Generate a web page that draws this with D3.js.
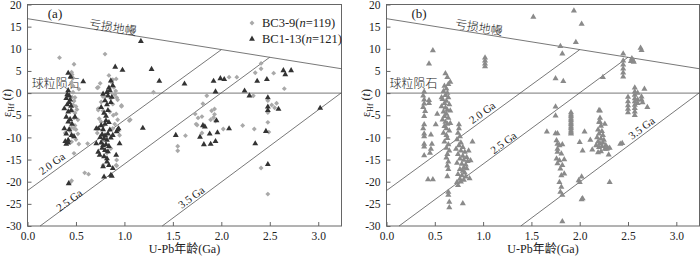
<!DOCTYPE html>
<html>
<head>
<meta charset="utf-8">
<script src="https://cdn.jsdelivr.net/npm/d3@7"></script>
<style>
  body { margin: 0; background: #fff; }
  text { font-family: "Liberation Serif", "Times New Roman", "Noto Sans CJK SC", serif; fill: #222; }
  .cjk { font-family: "Noto Sans CJK SC", sans-serif; font-weight: 300; }
</style>
</head>
<body>
<svg id="chart" width="700" height="259"></svg>
<script>
// axis ticks
const xTicks = [0, 0.5, 1.0, 1.5, 2.0, 2.5, 3.0];
const yTicks = [-30, -25, -20, -15, -10, -5, 0, 5, 10, 15, 20];

// reference lines [age Ga, eHf]
const mantleLine = [[0, 16.8], [3.24, 5.5]];
const chondriteLine = [[0, 0], [3.24, 0]];
const line20 = [[0, -22], [2.0, 9.8]];
const line25 = [[0.13, -30], [2.5, 8.1]];
const line35 = [[1.39, -30], [3.24, 0.1]];

// panel (a): BC3-9 grey diamonds
const bc39 = [
  [0.33,8.0],[0.48,6.5],[0.455,4.7],[0.46,4.2],[0.47,3.4],[0.455,2.4],[0.47,1.6],[0.53,0.9],
  [0.46,-0.9],[0.48,-1.8],[0.47,-2.7],[0.51,-3.7],[0.49,-4.5],[0.48,-5.6],[0.45,-6.8],[0.455,-7.8],
  [0.48,-8.0],[0.50,-8.2],[0.39,-9.0],[0.52,-9.2],[0.455,-11.0],[0.48,-13.6],[0.62,-11.4],[0.59,-18.0],
  [0.63,-18.3],[0.455,-19.8],[0.44,-20.2],
  [0.47,0.2],[0.49,-1.0],[0.50,-3.0],[0.46,-4.0],[0.52,-6.0],[0.47,-9.8],[0.49,-7.3],[0.44,-8.5],
  [0.50,-10.5],[0.53,-11.5],
  [0.80,8.8],[0.72,1.2],[0.88,3.0],[0.915,3.2],[0.87,2.4],[0.89,1.3],[0.73,1.3],[0.92,-1.0],
  [0.93,-1.5],[0.88,-2.5],[0.97,-2.8],[0.97,-3.0],[0.73,-3.5],[0.73,-3.8],[0.885,-5.0],[0.915,-4.7],
  [0.74,-5.8],[1.05,-6.2],[1.06,-6.0],[0.76,-6.5],[0.78,-7.4],[0.90,-7.0],[0.92,-15.1],[0.915,-16.3],
  [0.78,-16.3],[0.92,-16.4],[0.81,-9.8],[0.86,-12.5],
  [0.76,-2.0],[0.90,-0.3],[0.85,-4.2],[0.78,-4.0],[0.93,-6.0],[0.88,-8.0],[0.82,-13.5],[0.95,-9.5],
  [0.72,-9.0],[0.78,-0.8],[0.86,-1.2],[0.91,0.5],[0.75,2.2],[0.84,4.0],[0.77,-10.8],
  [1.30,0.2],[1.85,-0.6],[1.81,-2.4],[1.73,-4.7],[1.76,-5.6],[1.80,-5.3],[1.74,-7.0],[1.90,-4.0],
  [1.93,-3.6],[1.92,-5.5],[1.89,-6.0],[1.94,-6.3],[1.93,-4.8],[2.02,-8.1],[2.22,-7.3],[2.34,-8.1],
  [2.49,-8.8],[2.33,-0.6],[2.41,6.7],[2.41,5.5],[2.35,4.6],[2.54,4.5],[2.65,1.0],[2.48,-1.7],
  [2.52,-2.7],[2.57,-2.3],[2.55,-3.3],[2.48,-4.4],[2.48,-6.6],[2.08,3.6],[2.16,3.6],[1.63,-9.6],
  [1.55,-12.0],[1.55,-13.0],[1.80,-9.0],[2.41,-16.9],[2.48,-22.8],[1.75,-7.2]
];

// panel (a): BC1-13 dark triangles
const bc113 = [
  [0.42,4.5],[0.445,3.7],[0.575,2.6],[0.42,0.6],[0.41,-0.3],[0.43,-0.6],[0.40,-1.2],[0.44,-1.5],
  [0.43,-2.1],[0.41,-2.6],[0.45,-2.9],[0.38,-3.5],[0.45,-3.9],[0.42,-4.2],[0.40,-5.4],[0.49,-5.4],
  [0.44,-5.9],[0.42,-6.5],[0.46,-7.0],[0.38,-8.0],[0.43,-8.2],[0.40,-9.2],[0.455,-9.5],[0.48,-9.8],
  [0.42,-10.6],[0.39,-10.9],[0.40,-11.5],[0.42,-11.2],[0.425,-20.4],
  [0.905,5.9],[0.98,5.2],[0.86,2.8],[0.88,1.7],[0.84,1.2],[0.85,0.6],[0.82,0.2],[0.78,-0.2],
  [0.83,-0.6],[0.87,-0.9],[0.80,-1.7],[0.86,-2.1],[0.82,-2.6],[0.76,-3.2],[0.83,-3.9],[0.79,-4.5],
  [0.81,-6.2],[0.84,-6.6],[0.80,-7.0],[0.71,-8.0],[0.73,-8.0],[0.78,-8.2],[0.85,-8.3],[0.93,-8.3],
  [0.94,-8.0],[0.92,-8.7],[0.77,-9.3],[0.80,-9.6],[0.83,-9.2],[0.75,-10.0],[0.79,-10.3],[0.82,-10.6],
  [0.86,-10.1],[0.71,-11.4],[0.76,-11.2],[0.78,-11.8],[0.81,-11.6],[0.84,-12.0],[0.95,-11.4],[0.77,-12.4],
  [0.80,-12.9],[0.73,-13.3],[0.83,-13.2],[0.745,-14.0],[0.79,-14.3],[0.82,-14.8],[0.915,-14.0],[0.78,-16.6],
  [0.84,-16.3],[0.88,-17.0],[0.86,-18.5],[0.79,-18.9],[0.87,-18.7],
  [0.81,-5.2],[0.76,-7.3],[0.88,-9.5],[0.82,-15.5],
  [1.17,11.7],[1.28,5.4],[1.36,2.7],[1.62,2.1],[1.92,2.7],[1.99,3.3],[2.03,3.1],[1.94,0.3],
  [2.24,0.5],[2.29,-0.6],[2.37,2.7],[2.47,3.1],[2.64,5.1],[2.66,4.2],[2.72,5.1],[2.48,-1.0],
  [2.48,-3.1],[2.59,-3.6],[2.48,-3.9],[3.02,-3.4],[1.19,-7.9],[1.81,-7.3],[1.83,-7.6],[1.95,-6.2],
  [2.08,-8.0],[1.53,-9.5],[1.78,-9.9],[1.88,-9.2],[1.96,-8.9],[1.82,-11.6],[1.89,-11.5],[1.94,-10.9],
  [2.35,-11.4],[2.46,-8.6],[2.48,-16.1]
];

// panel (b): grey triangles
const panelB = [
  [0.39,0.3],[0.38,-0.6],[0.39,-1.5],[0.39,-2.4],[0.38,-3.2],[0.40,-4.1],[0.39,-5.2],[0.39,-7.1],
  [0.38,-8.0],[0.39,-9.2],[0.39,-9.8],[0.39,-11.5],[0.39,-12.1],[0.39,-14.1],
  [0.44,-1.6],[0.44,-2.3],[0.46,-9.4],[0.47,-11.5],[0.46,-12.6],[0.45,-13.5],[0.51,-7.1],[0.525,-4.7],
  [0.43,-19.5],[0.48,-19.5],[0.48,9.6],[0.44,6.6],
  [0.61,4.4],[0.63,3.6],[0.66,2.5],[0.64,2.0],[0.60,1.6],[0.62,1.0],[0.59,0.4],[0.63,0.0],
  [0.61,-0.5],[0.64,-1.0],[0.58,-1.4],[0.62,-1.8],[0.60,-2.3],[0.65,-2.6],[0.57,-3.0],[0.61,-3.3],
  [0.63,-3.8],[0.59,-4.2],[0.62,-4.7],[0.60,-5.2],[0.64,-5.6],[0.58,-6.0],[0.61,-6.5],[0.63,-7.0],
  [0.60,-7.5],[0.62,-8.0],[0.65,-8.5],[0.59,-9.0],[0.62,-9.5],[0.63,-10.2],[0.60,-11.0],[0.64,-11.6],
  [0.62,-12.4],[0.65,-13.0],[0.63,-13.8],[0.62,-14.6],[0.64,-15.5],[0.63,-16.4],[0.64,-17.2],[0.63,-18.8],
  [0.64,-22.3],[0.64,-23.0],[0.65,-24.6],[0.65,-25.8],[0.66,-4.0],[0.57,-1.0],[0.66,-6.8],
  [0.75,-7.1],[0.75,-8.0],[0.74,-9.0],[0.76,-9.8],[0.73,-10.5],[0.77,-11.2],[0.75,-11.8],[0.79,-12.2],
  [0.72,-12.6],[0.77,-13.0],[0.81,-13.3],[0.74,-13.8],[0.79,-14.2],[0.83,-14.5],[0.76,-14.8],[0.80,-15.1],
  [0.84,-15.4],[0.73,-15.8],[0.78,-16.0],[0.82,-16.2],[0.80,-16.8],[0.76,-17.2],[0.83,-17.0],[0.79,-17.6],
  [0.81,-18.0],[0.74,-18.3],[0.78,-18.6],[0.82,-18.9],[0.76,-19.4],[0.80,-19.6],[0.73,-20.1],[0.74,-20.8],
  [0.89,-11.0],[0.87,-15.2],[0.86,-19.3],[0.79,-24.9],[0.85,-13.0],[0.77,-20.0],
  [1.02,8.0],[1.02,7.3],[1.02,6.6],[1.02,6.0],
  [1.52,17.2],[1.94,18.6],[2.02,15.6],[1.96,11.5],[1.80,10.6],[1.82,8.9],[1.75,3.3],[1.83,2.7],
  [2.24,3.6],[2.45,8.9],[2.45,7.3],[2.45,6.4],[2.45,5.5],[2.45,4.6],[2.45,3.7],
  [2.53,7.2],[2.54,7.8],[2.55,7.4],[2.56,7.0],[2.63,10.2],[2.64,9.7],
  [2.50,-0.9],[2.50,-1.9],[2.50,-2.8],[2.50,-3.6],[2.50,-4.4],
  [2.57,1.2],[2.57,0.3],[2.57,-0.4],[2.57,-1.2],[2.57,-1.9],[2.57,-2.7],[2.57,-3.4],[2.57,-4.2],[2.57,-5.0],
  [2.60,0.0],[2.60,-1.5],[2.60,-2.3],[2.64,-0.8],[2.64,-1.5],[2.67,0.9],[2.70,-3.2],[2.65,-2.1],
  [1.75,-3.1],[1.75,-5.1],
  [1.91,-4.4],[1.91,-4.9],[1.91,-5.3],[1.91,-5.8],[1.91,-6.2],[1.91,-6.7],[1.91,-7.1],[1.91,-7.6],
  [1.91,-8.0],[1.91,-8.5],[1.91,-8.9],[1.91,-9.2],
  [2.20,-3.9],[2.21,-4.0],[2.21,-6.6],[2.26,-7.0],[1.66,-8.7],[1.75,-9.1],[1.77,-9.1],[2.05,-8.7],
  [2.11,-10.6],[2.00,-11.1],[2.03,-13.0],[2.13,-12.8],
  [2.21,-5.6],[2.20,-6.5],[2.22,-7.4],[2.19,-8.3],[2.23,-8.6],[2.20,-9.2],[2.24,-9.5],[2.18,-10.0],
  [2.22,-10.3],[2.25,-10.6],[2.19,-11.0],[2.21,-11.4],[2.24,-11.2],[2.17,-11.8],[2.27,-11.8],[2.20,-12.2],
  [2.23,-12.0],[2.26,-12.6],[2.22,-13.2],[2.19,-13.4],[2.29,-12.4],
  [2.28,-12.6],[2.31,-12.4],[2.30,-13.9],[2.42,-11.5],[2.44,-11.3],
  [1.76,-10.7],[1.77,-11.5],[1.79,-11.8],[1.82,-11.6],[1.77,-12.6],[1.77,-13.3],[1.81,-13.7],[1.76,-14.8],
  [1.79,-15.2],[1.84,-15.0],[1.77,-15.9],[1.82,-16.3],[1.80,-17.1],[1.84,-18.2],[1.81,-18.6],[1.79,-20.1],
  [1.81,-21.2],[1.80,-22.3],[1.82,-23.0],[1.82,-29.0],
  [2.02,-18.9],[1.99,-19.7],[2.00,-20.1],[2.31,-20.1],[2.02,-24.0],[2.03,-23.8]
];

const SERIF = "Liberation Serif, Times New Roman, serif";
const svg = d3.select("#chart");
const y = d3.scaleLinear().domain([-30, 20]).range([226, 4.5]);

function drawPanel(p) {
  const x = d3.scaleLinear().domain([0, 3.24]).range([p.x0, p.x1]);
  const g = svg.append("g");
  const line = d3.line().x(d => x(d[0])).y(d => y(d[1]));
  const angle = l => Math.atan2(y(l[1][1]) - y(l[0][1]), x(l[1][0]) - x(l[0][0])) * 180 / Math.PI;

  // axes with inner ticks
  const xa = g.append("g")
    .attr("transform", `translate(0,${y(-30)})`)
    .call(d3.axisBottom(x).tickValues(xTicks).tickFormat(d => d.toFixed(1))
      .tickSizeInner(-4).tickSizeOuter(0).tickPadding(6));
  const ya = g.append("g")
    .attr("transform", `translate(${p.x0},0)`)
    .call(d3.axisLeft(y).tickValues(yTicks).tickFormat(d => String(d))
      .tickSizeInner(-4).tickSizeOuter(0).tickPadding(6));
  [xa, ya].forEach(a => {
    a.attr("font-family", SERIF);
    a.select(".domain").remove();
    a.selectAll("line").attr("stroke", "#666");
    a.selectAll("text").attr("font-size", 11.5).attr("fill", "#222")
      .attr("font-family", SERIF);
  });

  // frame
  g.append("rect")
    .attr("x", p.x0).attr("y", y(20))
    .attr("width", p.x1 - p.x0).attr("height", y(-30) - y(20))
    .attr("fill", "none").attr("stroke", "#666").attr("stroke-width", 1);

  // reference lines
  [mantleLine, chondriteLine, line20, line25, line35].forEach(l => {
    g.append("path").datum(l).attr("d", line)
      .attr("fill", "none").attr("stroke", "#555").attr("stroke-width", 0.8);
  });

  // labels on lines
  const lab = (txt, t, e, rot, cls, anchor) => {
    g.append("text")
      .attr("class", cls || null)
      .attr("transform", `translate(${x(t)},${y(e)}) rotate(${rot})`)
      .attr("text-anchor", anchor || "middle")
      .attr("dy", "0.35em")
      .attr("font-size", cls ? 12 : 11)
      .attr("fill", "#333")
      .text(txt);
  };
  lab("亏损地幔", p.dm[0], p.dm[1], angle(mantleLine), "cjk");
  lab("球粒陨石", p.ch[0], p.ch[1], 0, "cjk", "start");
  lab("2.0 Ga", p.l20[0], p.l20[1], angle(line20));
  lab("2.5 Ga", p.l25[0], p.l25[1], angle(line25));
  lab("3.5 Ga", p.l35[0], p.l35[1], angle(line35));

  // panel letter
  g.append("text").attr("x", p.letterX).attr("y", 18)
    .attr("text-anchor", "middle").attr("font-size", 13).text(p.letter);

  // y label
  const yl = g.append("text")
    .attr("transform", `translate(${p.x0 - 17},103) rotate(-90)`)
    .attr("text-anchor", "middle").attr("font-size", 12);
  yl.append("tspan").text("ε");
  yl.append("tspan").attr("font-size", 8).attr("dy", 3).text("Hf");
  yl.append("tspan").attr("dy", -3).text(" (");
  yl.append("tspan").attr("font-style", "italic").text("t");
  yl.append("tspan").text(")");

  // x label
  g.append("text").attr("x", (p.x0 + p.x1) / 2).attr("y", 253)
    .attr("text-anchor", "middle").attr("font-size", 12).text("U-Pb年龄(Ga)");

  // points
  p.series.forEach(s => {
    g.append("g").selectAll("path")
      .data(s.data)
      .join("path")
      .attr("transform", d => `translate(${x(d[0])},${y(d[1])})${s.rot ? " rotate(45)" : ""}`)
      .attr("d", d3.symbol().type(s.type).size(s.size))
      .attr("fill", s.color);
  });

  return x;
}

drawPanel({
  x0: 27.5, x1: 341.5, letter: "(a)", letterX: 55,
  dm: [0.88, 14.8], ch: [0.045, 2.0], l20: [0.25, -15.9], l25: [0.43, -24.2], l35: [1.69, -23.5],
  series: [
    { data: bc39, type: d3.symbolSquare, size: 12, color: "#a9a9a9", rot: true },
    { data: bc113, type: d3.symbolTriangle, size: 15, color: "#333" }
  ]
});
drawPanel({
  x0: 386.5, x1: 699.5, letter: "(b)", letterX: 419,
  dm: [0.955, 14.8], ch: [0.03, 2.0], l20: [0.99, -4.4], l25: [1.21, -11.2], l35: [2.64, -7.9],
  series: [
    { data: panelB, type: d3.symbolTriangle, size: 16, color: "#8a8a8a" }
  ]
});

// legend for panel (a)
const leg = svg.append("g");
leg.append("path").attr("transform", "translate(252,23) rotate(45)")
  .attr("d", d3.symbol().type(d3.symbolSquare).size(12)).attr("fill", "#a9a9a9");
leg.append("path").attr("transform", "translate(252,39)")
  .attr("d", d3.symbol().type(d3.symbolTriangle).size(15)).attr("fill", "#333");
[["BC3-9(", "=119)", 27], ["BC1-13(", "=121)", 43]].forEach(r => {
  const t = leg.append("text").attr("x", 262).attr("y", r[2]).attr("font-size", 12.5)
    .attr("font-family", SERIF);
  t.append("tspan").text(r[0]);
  t.append("tspan").attr("font-style", "italic").text("n");
  t.append("tspan").text(r[1]);
});
</script>
</body>
</html>
